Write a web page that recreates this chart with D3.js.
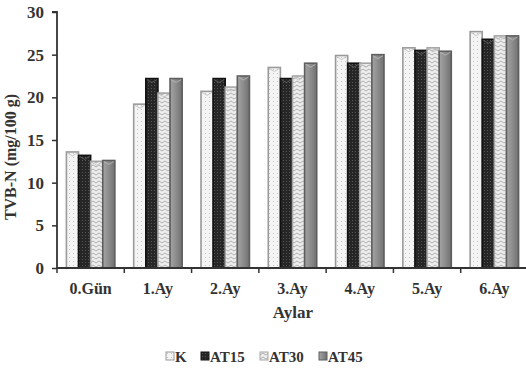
<!DOCTYPE html>
<html><head><meta charset="utf-8">
<script src="https://cdn.jsdelivr.net/npm/d3@7"></script>
<style>
body{margin:0;background:#fff;}
svg text{font-family:"Liberation Serif","Times New Roman",serif;font-weight:bold;fill:#333;}
</style></head>
<body><svg id="c" width="526" height="370"></svg>
<script>
const categories = ["0.Gün","1.Ay","2.Ay","3.Ay","4.Ay","5.Ay","6.Ay"];
const seriesNames = ["K","AT15","AT30","AT45"];
const K    = [13.6, 19.2, 20.7, 23.5, 24.9, 25.8, 27.7];
const AT15 = [13.2, 22.2, 22.2, 22.2, 24.0, 25.5, 26.8];
const AT30 = [12.5, 20.5, 21.2, 22.5, 24.0, 25.8, 27.2];
const AT45 = [12.6, 22.2, 22.5, 24.0, 25.0, 25.4, 27.2];
const yTicks = [0,5,10,15,20,25,30];
const seriesValues = [K, AT15, AT30, AT45];

const svg = d3.select("#c");
const L = 57, R = 528, T = 12, B = 268;

const defs = svg.append("defs");
let p = defs.append("pattern").attr("id","pK").attr("width",4).attr("height",4).attr("patternUnits","userSpaceOnUse");
p.append("rect").attr("width",4).attr("height",4).attr("fill","#f4f4f4");
p.append("rect").attr("x",1).attr("y",1).attr("width",1).attr("height",1).attr("fill","#c4c4c4");
p = defs.append("pattern").attr("id","p15").attr("width",3).attr("height",3).attr("patternUnits","userSpaceOnUse");
p.append("rect").attr("width",3).attr("height",3).attr("fill","#262626");
p.append("rect").attr("x",1).attr("y",1).attr("width",1).attr("height",1).attr("fill","#555");
p = defs.append("pattern").attr("id","p30").attr("width",6).attr("height",4).attr("patternUnits","userSpaceOnUse");
p.append("rect").attr("width",6).attr("height",4).attr("fill","#ededed");
p.append("path").attr("d","M0,3 L3,1 L6,3").attr("fill","none").attr("stroke","#a8a8a8").attr("stroke-width",0.9);
const g45 = defs.append("linearGradient").attr("id","g45").attr("x1","0").attr("x2","1").attr("y1","0").attr("y2","0");
g45.append("stop").attr("offset","0").attr("stop-color","#a4a4a4");
g45.append("stop").attr("offset","0.5").attr("stop-color","#8c8c8c");
g45.append("stop").attr("offset","1").attr("stop-color","#707070");
const fills = ["url(#pK)","url(#p15)","url(#p30)","url(#g45)"];
const strokes = ["#9a9a9a","#111","#a5a5a5","#5e5e5e"];

const x = d3.scaleBand().domain(categories).range([L, R]).padding(0);
const xs = d3.scaleBand().domain(seriesNames).range([x.bandwidth()*0.14, x.bandwidth()*0.86]).padding(0);
const y = d3.scaleLinear().domain([0,30]).range([B, T]);

categories.forEach((c, i) => {
  seriesNames.forEach((s, j) => {
    const v = seriesValues[j][i];
    const bx = x(c) + xs(s), bw = xs.bandwidth(), by = y(v), bh = y(0) - y(v);
    svg.append("rect").attr("x",bx).attr("y",by).attr("width",bw).attr("height",bh)
      .attr("fill",fills[j]).attr("stroke",strokes[j]).attr("stroke-width",1.6);
    svg.append("path").attr("d",`M${bx+1},${by+1} L${bx+bw/2},${by+4} L${bx+bw-1},${by+1}`)
      .attr("fill","none").attr("stroke", j===1 ? "#666" : "#bbb").attr("stroke-width",0.8);
  });
});

const yAxis = svg.append("g").attr("transform",`translate(${L},0)`)
  .call(d3.axisLeft(y).tickValues(yTicks).tickSize(5).tickPadding(8).tickFormat(d3.format("d")));
yAxis.select(".domain").attr("stroke","#333").attr("stroke-width",1.8).attr("d",`M-5,${T}H0V${B}`);
yAxis.selectAll(".tick line").attr("stroke","#333").attr("stroke-width",1.5);
yAxis.selectAll("text").style("font-size","17px").attr("fill","#333");

const xAxis = svg.append("g").attr("transform",`translate(0,${B})`)
  .call(d3.axisBottom(x).tickSize(0).tickPadding(15));
xAxis.select(".domain").attr("stroke","#333").attr("stroke-width",1.8).attr("d",`M${L},0H${R}`);
xAxis.selectAll("text").style("font-size","16px").attr("fill","#333");
const bounds = categories.map(c => x(c));
xAxis.selectAll(".bt").data(bounds).enter().append("line")
  .attr("x1",d=>d).attr("x2",d=>d).attr("y1",0).attr("y2",5).attr("stroke","#333").attr("stroke-width",1.5);

svg.append("text").attr("x", 293).attr("y", 318).attr("text-anchor","middle")
  .style("font-size","17px").text("Aylar");
svg.append("text").attr("transform","translate(16,157) rotate(-90)").attr("text-anchor","middle")
  .style("font-size","16px").text("TVB-N (mg/100 g)");

const legX = [166, 201, 260, 319];
seriesNames.forEach((s, j) => {
  const g = svg.append("g").attr("transform",`translate(${legX[j]},352)`);
  g.append("rect").attr("x",0).attr("y",0).attr("width",8).attr("height",8)
    .attr("fill",fills[j]).attr("stroke",strokes[j]).attr("stroke-width",1);
  g.append("text").attr("x",9).attr("y",10).style("font-size","15px").text(s);
});
</script></body></html>
